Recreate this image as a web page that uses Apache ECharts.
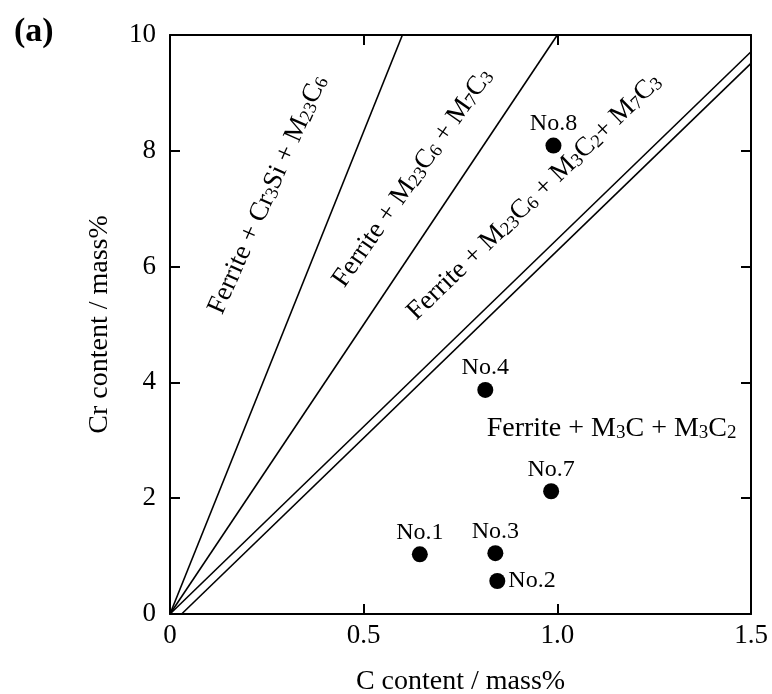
<!DOCTYPE html>
<html>
<head>
<meta charset="utf-8">
<script src="https://cdn.jsdelivr.net/npm/echarts@6/dist/echarts.min.js"></script>
<style>html,body{margin:0;padding:0;background:#fff;}#chart{width:772px;height:694px;}</style>
</head>
<body>
<div id="chart"></div>
<script>
// ---- data ----
const sampleNames = ['No.1', 'No.2', 'No.3', 'No.4', 'No.7', 'No.8'];
const sampleC  = [0.645, 0.845, 0.840, 0.814, 0.984, 0.990];
const sampleCr = [1.03, 0.57, 1.05, 3.87, 2.12, 8.09];

// phase boundary lines: [C, Cr] endpoints
const boundary1 = [[0, 0], [0.60, 10]];
const boundary2 = [[0, 0], [1.00, 10]];
const boundary3 = [[0, 0], [1.50, 9.71]];
const boundary4 = [[0.03, 0], [1.50, 9.51]];

// region labels
const regionTexts = [
  'Ferrite + Cr{s|3}Si + M{s|23}C{s|6}',
  'Ferrite + M{s|23}C{s|6} + M{s|7}C{s|3}',
  'Ferrite + M{s|23}C{s|6} + M{s|3}C{s|2}+ M{s|7}C{s|3}',
  'Ferrite + M{h|3}C + M{h|3}C{h|2}'
];
const regionC  = [0.253, 0.627, 0.941, 1.140];
const regionCr = [7.24, 7.53, 7.20, 3.20];

const xTicks = [0, 0.5, 1.0, 1.5];
const xTickLabels = ['0', '0.5', '1.0', '1.5'];
const yTicks = [0, 2, 4, 6, 8, 10];
const yTickLabels = ['0', '2', '4', '6', '8', '10'];

// ---- styling ----
const FONT = '"Liberation Serif", "Times New Roman", serif';
const regionRotations = [66, 55, 44, 0];
const regionFontSizes = [27, 27, 27, 28];
const labelPos = { 'No.2': 'right' };

const chart = echarts.init(document.getElementById('chart'), null, { renderer: 'canvas' });

function axisCommon() {
  return {
    type: 'value',
    axisLine: { show: true, onZero: false, lineStyle: { color: '#000', width: 2 } },
    axisTick: { show: true, inside: true, length: 10, lineStyle: { color: '#000', width: 2 } },
    splitLine: { show: false }
  };
}

function lineSeries(d) {
  return {
    type: 'line', data: d, symbol: 'none', silent: true,
    lineStyle: { color: '#000', width: 1.6 }, z: 2
  };
}

const option = {
  animation: false,
  backgroundColor: '#fff',
  title: {
    text: '(a)', left: 9, top: 10,
    textStyle: { fontFamily: FONT, fontSize: 34, fontWeight: 'bold', color: '#000' }
  },
  grid: { left: 170, top: 35, right: 21, bottom: 80, containLabel: false, outerBoundsMode: 'none' },
  xAxis: [
    Object.assign(axisCommon(), {
      min: 0, max: 1.5, interval: 0.5, position: 'bottom',
      axisLabel: {
        fontFamily: FONT, fontSize: 27, color: '#000', margin: 8,
        formatter: v => { const i = xTicks.findIndex(t => Math.abs(t - v) < 1e-9); return i >= 0 ? xTickLabels[i] : ''; }
      },
      name: 'C content / mass%', nameLocation: 'middle', nameGap: 54,
      nameTextStyle: { fontFamily: FONT, fontSize: 28, color: '#000' }
    }),
    Object.assign(axisCommon(), {
      min: 0, max: 1.5, interval: 0.5, position: 'top',
      axisLabel: { show: false }
    })
  ],
  yAxis: [
    Object.assign(axisCommon(), {
      min: 0, max: 10, interval: 2, position: 'left',
      axisLabel: {
        fontFamily: FONT, fontSize: 27, color: '#000', margin: 14,
        formatter: v => { const i = yTicks.findIndex(t => Math.abs(t - v) < 1e-9); return i >= 0 ? yTickLabels[i] : ''; }
      },
      name: 'Cr content / mass%', nameLocation: 'middle', nameGap: 56, nameRotate: 90,
      nameTextStyle: { fontFamily: FONT, fontSize: 28, color: '#000' }
    }),
    Object.assign(axisCommon(), {
      min: 0, max: 10, interval: 2, position: 'right',
      axisLabel: { show: false }
    })
  ],
  series: [
    lineSeries(boundary1),
    lineSeries(boundary2),
    lineSeries(boundary3),
    lineSeries(boundary4),
    {
      type: 'scatter',
      symbol: 'circle', symbolSize: 16,
      itemStyle: { color: '#000', opacity: 1 },
      z: 5,
      data: sampleNames.map((n, i) => ({
        name: n, value: [sampleC[i], sampleCr[i]],
        label: { position: labelPos[n] || 'top', distance: labelPos[n] ? 3 : 2 }
      })),
      label: {
        show: true, formatter: p => p.name,
        fontFamily: FONT, fontSize: 24, color: '#000'
      }
    },
    {
      type: 'scatter',
      symbol: 'circle', symbolSize: 1, silent: true, z: 4,
      itemStyle: { color: 'rgba(0,0,0,0)', opacity: 1 },
      data: regionTexts.map((t, i) => ({
        value: [regionC[i], regionCr[i]],
        label: { rotate: regionRotations[i], formatter: t, fontSize: regionFontSizes[i], lineHeight: regionFontSizes[i] }
      })),
      label: {
        show: true, position: 'inside', align: 'center', verticalAlign: 'middle',
        fontFamily: FONT, fontSize: 27, color: '#000', lineHeight: 27, opacity: 1,
        rich: {
          s: { fontFamily: FONT, fontSize: 18.5, color: '#000', verticalAlign: 'bottom' },
          h: { fontFamily: FONT, fontSize: 19, color: '#000', verticalAlign: 'bottom' }
        }
      }
    }
  ]
};
chart.setOption(option);
</script>
</body>
</html>
